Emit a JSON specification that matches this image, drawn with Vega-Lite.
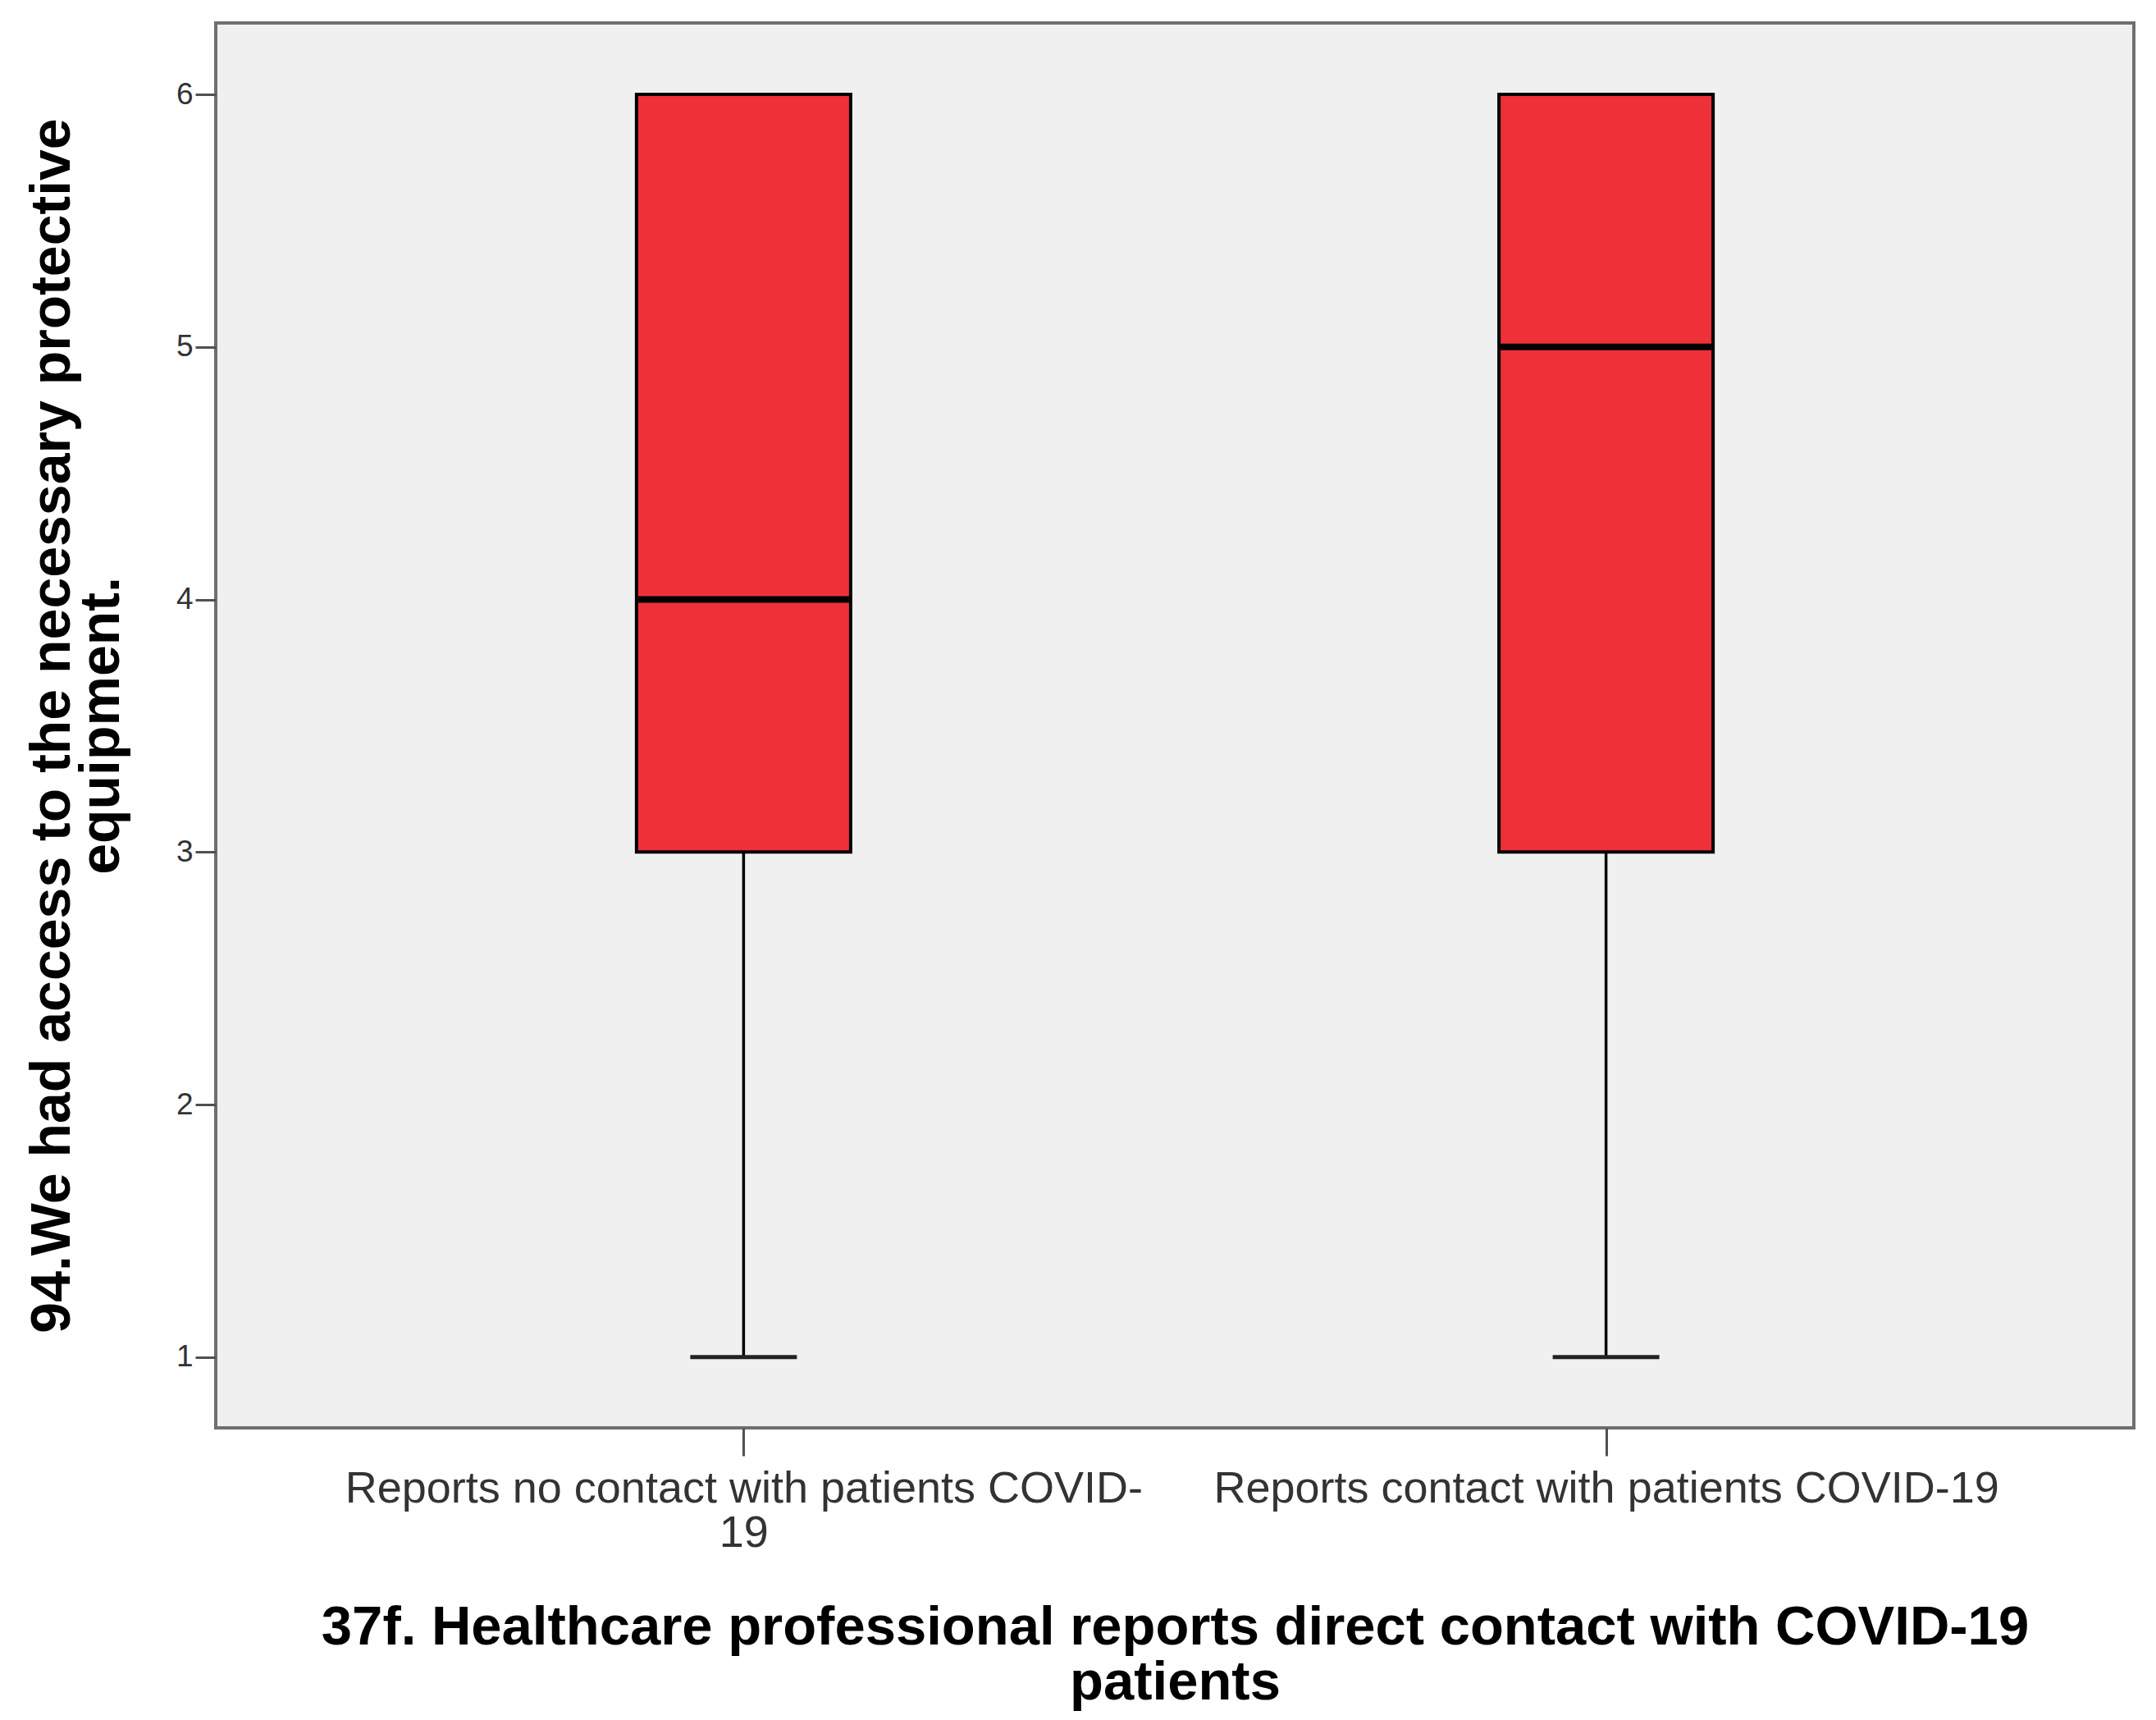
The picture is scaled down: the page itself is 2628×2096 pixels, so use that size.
{
  "$schema": "https://vega.github.io/schema/vega-lite/v6.json",
  "autosize": {"type": "none"},
  "padding": {"left": 263, "top": 28, "right": 27, "bottom": 356},
  "width": 2338,
  "height": 1712,
  "background": "white",
  "config": {
    "font": "Liberation Sans",
    "view": {"fill": "#F0F0F0", "stroke": "#6F6F6F", "strokeWidth": 4},
    "axis": {"grid": false, "domain": false, "tickColor": "#505050", "tickWidth": 3, "labelColor": "#333333", "titleColor": "#000000", "labelFont": "Liberation Sans", "titleFont": "Liberation Sans"}
  },
  "data": {
    "values": [
      {"group": "Reports no contact with patients COVID-19", "min": 1, "q1": 3, "median": 4, "q3": 6, "max": 6},
      {"group": "Reports contact with patients COVID-19", "min": 1, "q1": 3, "median": 5, "q3": 6, "max": 6}
    ]
  },
  "encoding": {
    "x": {
      "field": "group", "type": "nominal", "sort": null,
      "scale": {"type": "point", "padding": 0.612},
      "axis": {
        "title": ["37f. Healthcare professional reports direct contact with COVID-19", "patients"],
        "titleFontSize": 67, "titleFontWeight": "bold", "titleLineHeight": 67,
        "titleX": 1169, "titleY": 243, "titleBaseline": "middle", "titleAlign": "center", "titleAnchor": null,
        "labelFontSize": 54, "labelLineHeight": 54, "labelAngle": 0, "labelPadding": 13,
        "labelLimit": 0, "tickSize": 34,
        "labelExpr": "datum.value == 'Reports no contact with patients COVID-19' ? ['Reports no contact with patients COVID-', '19'] : datum.value"
      }
    }
  },
  "layer": [
    {
      "mark": {"type": "rule", "stroke": "#000000", "strokeWidth": 3.5},
      "encoding": {
        "y": {"field": "min", "type": "quantitative"},
        "y2": {"field": "q1"}
      }
    },
    {
      "mark": {"type": "rule", "stroke": "#000000", "strokeWidth": 3.5},
      "encoding": {
        "y": {"field": "q3", "type": "quantitative"},
        "y2": {"field": "max"}
      }
    },
    {
      "mark": {"type": "tick", "color": "#222222", "size": 130, "thickness": 5, "opacity": 1},
      "encoding": {"y": {"field": "min", "type": "quantitative"}}
    },
    {
      "mark": {"type": "bar", "width": 261, "fill": "#EE3039", "stroke": "#000000", "strokeWidth": 4},
      "encoding": {
        "y": {
          "field": "q1", "type": "quantitative",
          "scale": {"domain": [0.72, 6.283], "nice": false, "zero": false},
          "axis": {
            "title": ["94.We had access to the necessary protective", "equipment."],
            "titleFontSize": 68, "titleFontWeight": "bold", "titleLineHeight": 60,
            "titleX": -199, "titleY": 856, "titleAngle": -90, "titleBaseline": "middle", "titleAlign": "center",
            "values": [1, 2, 3, 4, 5, 6], "format": "d",
            "labelFontSize": 37, "tickSize": 25, "labelPadding": 3
          }
        },
        "y2": {"field": "q3"}
      }
    },
    {
      "mark": {"type": "tick", "color": "#000000", "size": 257, "thickness": 8, "opacity": 1},
      "encoding": {"y": {"field": "median", "type": "quantitative"}}
    }
  ]
}
